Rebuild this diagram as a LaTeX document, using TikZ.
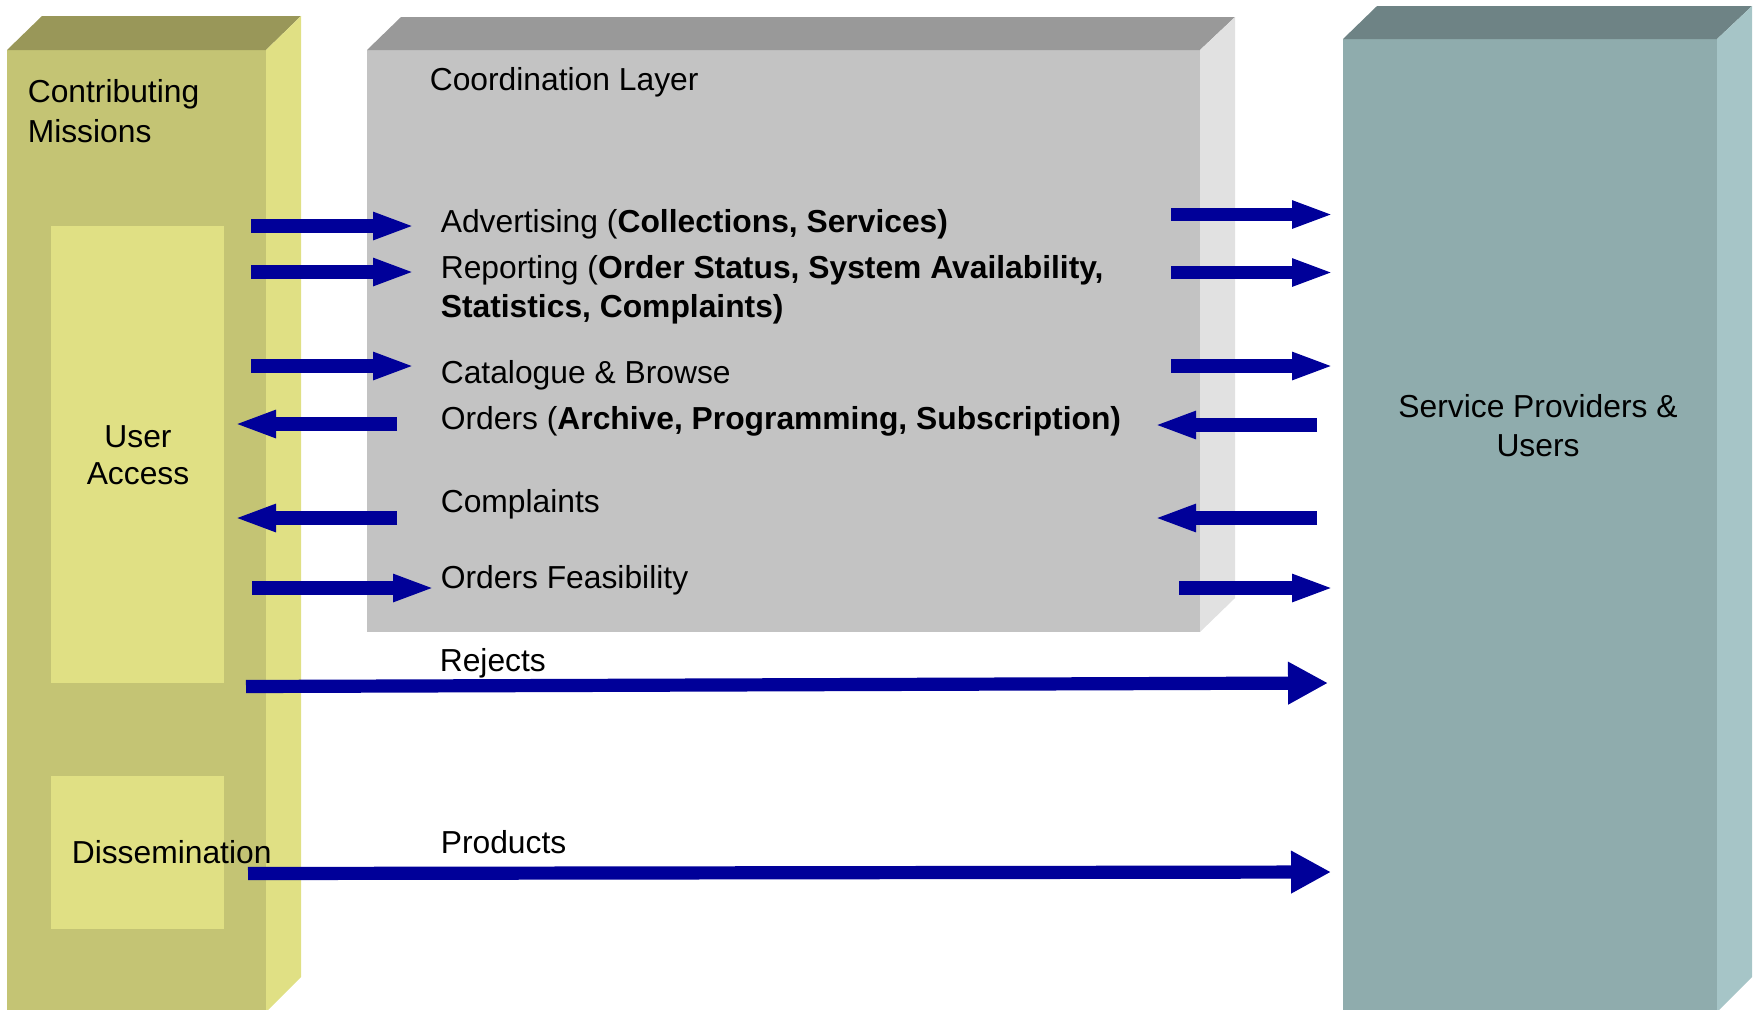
\documentclass[tikz,border=0pt]{standalone}
\usepackage{fontspec}
\setmainfont{Liberation Sans}
\usetikzlibrary{arrows.meta}
\definecolor{missfront}{RGB}{196,196,116}
\definecolor{misstop}{RGB}{153,151,89}
\definecolor{missside}{RGB}{224,224,132}
\definecolor{coordfront}{RGB}{195,195,195}
\definecolor{coordtop}{RGB}{153,153,153}
\definecolor{coordside}{RGB}{225,225,225}
\definecolor{provfront}{RGB}{143,172,173}
\definecolor{provtop}{RGB}{110,131,133}
\definecolor{provside}{RGB}{166,197,199}
\definecolor{flowblue}{RGB}{0,0,153}

\begin{document}
\begin{tikzpicture}[x=0.25pt, y=-0.25pt,
  lbl/.style={inner sep=0pt, anchor=base west, font=\fontsize{7.95pt}{9.5pt}\selectfont},
  clbl/.style={lbl, anchor=base},
  flow/.style={draw=flowblue, line width=3.3pt, -{Triangle[length=10.5pt,width=6.25pt]}},
  bigflow/.style={flow, -{Triangle[length=10pt,width=10pt]}}]
\useasboundingbox (0,0) rectangle (1753,1009);
\clip (0,0) rectangle (1753,1009);
% contributing missions block
\fill[missfront] (7,50) rectangle (266,1012);
\fill[misstop] (7,50) -- (42,16) -- (301,16) -- (266,50) -- cycle;
\fill[missside] (266,50) -- (301,16) -- (301,977) -- (266,1012) -- cycle;
\fill[missside] (51,226) rectangle (224,683);
\fill[missside] (51,776) rectangle (224,929);
% coordination layer block
\fill[coordfront] (367,50) rectangle (1200,632);
\fill[coordtop] (367,50) -- (401,17) -- (1235,17) -- (1200,50) -- cycle;
\fill[coordside] (1200,50) -- (1235,17) -- (1235,598) -- (1200,632) -- cycle;
% service providers block
\fill[provfront] (1343,39) rectangle (1717,1012);
\fill[provtop] (1343,39) -- (1377,6) -- (1752,6) -- (1717,39) -- cycle;
\fill[provside] (1717,39) -- (1752,6) -- (1752,977) -- (1717,1012) -- cycle;

\node[lbl] (cm1) at (27,102) {Contributing};
\node[lbl] (cm2) at (27,142) {Missions};
\node[clbl] (ua1) at (138,447) {User};
\node[clbl] (ua2) at (138,484) {Access};
\node[lbl] (diss) at (71,863) {Dissemination};
\node[lbl] (coord) at (429,90) {Coordination Layer};
\node[lbl] (adv) at (440,232) {Advertising (\textbf{Collections, Services)}};
\node[lbl] (rep1) at (440,278) {Reporting (\textbf{Order Status, System Availability,}};
\node[lbl] (rep2) at (440,317) {\textbf{Statistics, Complaints)}};
\node[lbl] (cat) at (440,383) {Catalogue \& Browse};
\node[lbl] (ord) at (440,429) {Orders (\textbf{Archive, Programming, Subscription)}};
\node[lbl] (cmp) at (440,512) {Complaints};
\node[lbl] (feas) at (440,588) {Orders Feasibility};
\node[lbl] (rej) at (439,671) {Rejects};
\node[lbl] (prod) at (440,853) {Products};
\node[clbl] (sp1) at (1538,417) {Service Providers \&};
\node[clbl] (sp2) at (1538,456) {Users};

% arrow ends
\coordinate (advA) at (251,226);   \coordinate (advB) at (415,226);
\coordinate (advC) at (1171,214.5); \coordinate (advD) at (1334,214.5);
\coordinate (repA) at (251,272);   \coordinate (repB) at (415,272);
\coordinate (repC) at (1171,272.5); \coordinate (repD) at (1334,272.5);
\coordinate (catA) at (251,366);   \coordinate (catB) at (415,366);
\coordinate (catC) at (1171,366);  \coordinate (catD) at (1334,366);
\coordinate (ordA) at (234,424);   \coordinate (ordB) at (397,424);
\coordinate (ordC) at (1154,425);  \coordinate (ordD) at (1317,425);
\coordinate (cmpA) at (234,518);   \coordinate (cmpB) at (397,518);
\coordinate (cmpC) at (1154,518);  \coordinate (cmpD) at (1317,518);
\coordinate (feaA) at (252,588);   \coordinate (feaB) at (435,588);
\coordinate (feaC) at (1179,588);  \coordinate (feaD) at (1334,588);
\coordinate (rejA) at (246,686.5); \coordinate (rejB) at (1328,683);
\coordinate (proA) at (248,873.5); \coordinate (proB) at (1331,872);

\draw[flow] (advA) -- (advB);
\draw[flow] (advC) -- (advD);
\draw[flow] (repA) -- (repB);
\draw[flow] (repC) -- (repD);
\draw[flow] (catA) -- (catB);
\draw[flow] (catC) -- (catD);
\draw[flow] (ordB) -- (ordA);
\draw[flow] (ordD) -- (ordC);
\draw[flow] (cmpB) -- (cmpA);
\draw[flow] (cmpD) -- (cmpC);
\draw[flow] (feaA) -- (feaB);
\draw[flow] (feaC) -- (feaD);
\draw[bigflow] (rejA) -- (rejB);
\draw[bigflow] (proA) -- (proB);
\end{tikzpicture}
\end{document}
